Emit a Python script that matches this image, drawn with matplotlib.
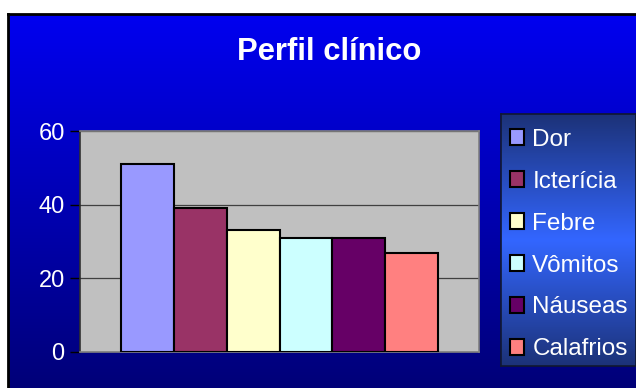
import numpy as np
import matplotlib.pyplot as plt
from matplotlib.colors import LinearSegmentedColormap

categorias = ["Dor", "Icterícia", "Febre", "Vômitos", "Náuseas", "Calafrios"]
valores = [51, 39, 33, 31, 31, 27]
cores = ["#9999ff", "#993366", "#ffffcc", "#ccffff", "#660066", "#ff8080"]
ticks_y = [0, 20, 40, 60]

plt.rcParams['font.family'] = ['Liberation Sans', 'DejaVu Sans']

W, H = 636, 388
fig = plt.figure(figsize=(W / 100, H / 100), dpi=100)
fig.patch.set_facecolor("white")

# fundo em gradiente (azul vivo -> azul marinho)
bg = fig.add_axes([8 / W, 0, 1 - 8 / W, (H - 14) / H], zorder=0)
grad = np.linspace(0, 1, 256).reshape(-1, 1)
cmap_bg = LinearSegmentedColormap.from_list("bg", ["#0000f0", "#000078"])
bg.imshow(grad, aspect="auto", cmap=cmap_bg, extent=[0, 1, 0, 1], origin="upper")
bg.set_xlim(0, 1)
bg.set_ylim(0, 1)
bg.axis("off")
fig.add_artist(plt.Line2D([8 / W, 8 / W], [0, (H - 14) / H], color="black", lw=2))
fig.add_artist(plt.Line2D([8 / W, 1], [(H - 14) / H, (H - 14) / H], color="black", lw=2))

# fundo da legenda
lx0, lx1, ly0, ly1 = 501, 636, 114, 366
lg = fig.add_axes([lx0 / W, 1 - ly1 / H, (lx1 - lx0) / W, (ly1 - ly0) / H], zorder=1)
cmap_lg = LinearSegmentedColormap.from_list("lg", ["#1c3278", "#3366ff", "#1c3278"])
lg.imshow(grad, aspect="auto", cmap=cmap_lg, extent=[0, 1, 0, 1], origin="upper")
lg.set_xlim(0, 1)
lg.set_ylim(0, 1)
lg.set_xticks([])
lg.set_yticks([])
for s in lg.spines.values():
    s.set_color("#101830")
    s.set_linewidth(1.2)

# grafico
ax = fig.add_axes([80 / W, 1 - 352 / H, 399 / W, 221 / H], zorder=2)
ax.set_facecolor("#c0c0c0")
x = np.arange(len(valores))
barras = ax.bar(x, valores, width=1.0, color=cores, edgecolor="black", linewidth=1.5, zorder=3)
ax.set_xlim(-1.27, len(valores) - 1 + 1.27)
ax.set_ylim(0, 60)
ax.set_yticks(ticks_y)
ax.set_xticks([])
ax.yaxis.grid(True, color="#404040", linewidth=0.9)
ax.set_axisbelow(True)
ax.tick_params(axis="y", colors="black", labelcolor="white", labelsize=17,
               length=7, width=1, pad=4)
for s in ax.spines.values():
    s.set_color("#808080")
    s.set_linewidth(1.2)
ax.spines["left"].set_color("#303030")

fig.text(329 / W, 1 - 52 / H, "Perfil clínico", color="white", fontsize=22.3,
         fontweight="bold", ha="center", va="center")

# legenda
leg = fig.legend(barras, categorias, loc="upper left",
                 bbox_to_anchor=(500 / W, 1 - 119 / H), frameon=False,
                 fontsize=17.5, labelcolor="white", handlelength=0.6,
                 handleheight=0.6, handletextpad=0.33, labelspacing=0.82,
                 borderaxespad=0)
leg.set_zorder(5)

fig.savefig("out.png", dpi=100)
